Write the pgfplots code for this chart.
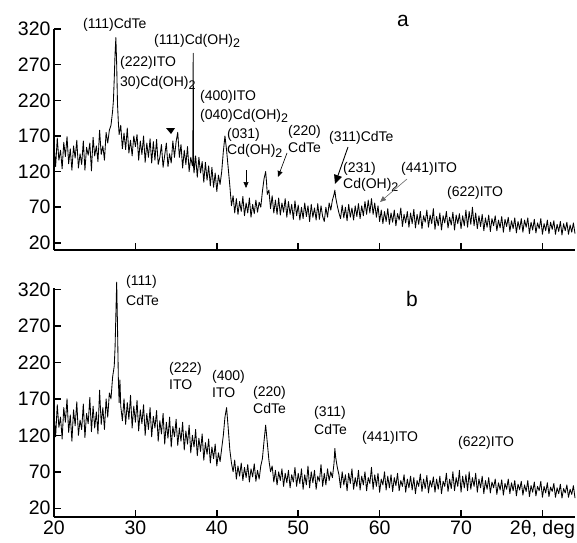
\documentclass[border=0pt]{standalone}
\usepackage{fontspec}
\setmainfont{Liberation Sans}
\usepackage{pgfplots}
\pgfplotsset{compat=1.18}
\usetikzlibrary{arrows.meta}

\newcommand{\sub}{\raisebox{-3.5pt}{\fontsize{12.5}{12.5}\selectfont 2}}

\pgfplotsset{xrd/.style={
  scale only axis, width=521pt,
  xmin=20, xmax=84,
  axis lines=left, axis line style={-, line width=1.5pt},
  tick align=inside, major tick length=7pt,
  tick style={black, line width=1.5pt},
  xtick={20,30,...,80}, ytick={20,70,...,320},
  ticklabel style={font=\fontsize{19.5}{19.5}\selectfont},
  /pgf/number format/assume math mode=true,
  clip=false,
}}

\begin{document}
\begin{tikzpicture}
% panel a
\begin{axis}[xrd, at={(54pt,292pt)}, anchor=south west,
  height=221pt, ymin=10, ymax=320, xticklabels={}]
\addplot[black, line width=0.85pt, line join=round] coordinates {
(20,157)(20.2,127)(20.4,167)(20.6,136)(20.8,150)(21,124)(21.2,161)(21.4,141)(21.6,169)(21.8,131)
(22,152)(22.2,122)(22.4,156)(22.6,139)(22.8,164)(23,125)(23.2,145)(23.4,130)(23.6,163)(23.8,122)
(24,154)(24.2,143)(24.4,160)(24.6,121)(24.8,168)(25,142)(25.2,156)(25.4,134)(25.6,178)(25.8,144)
(26,156)(26.2,136)(26.4,175)(26.6,160)(26.8,178)(27,185)(27.2,205)(27.3,220)(27.4,250)(27.5,285)
(27.6,308)(27.7,270)(27.8,215)(27.9,190)(28,172)(28.2,185)(28.4,152)(28.6,174)(28.8,151)(29,181)
(29.2,146)(29.4,164)(29.6,142)(29.8,170)(30,155)(30.2,172)(30.4,136)(30.6,163)(30.8,144)(31,170)
(31.2,133)(31.4,160)(31.6,140)(31.8,166)(32,132)(32.2,162)(32.4,136)(32.6,165)(32.8,130)(33,140)
(33.2,158)(33.4,126)(33.6,143)(33.8,160)(34,127)(34.2,145)(34.4,132)(34.6,163)(34.8,140)(35,162)
(35.2,175)(35.4,140)(35.6,158)(35.8,125)(36,150)(36.2,130)(36.4,155)(36.6,120)(36.8,140)(37,128)
(37.05,130)(37.1,286)(37.15,126)(37.2,118)(37.4,142)(37.6,112)(37.8,140)(38,118)(38.2,134)(38.4,105)
(38.6,133)(38.8,108)(39,128)(39.2,100)(39.4,126)(39.6,98)(39.8,118)(40,92)(40.2,115)(40.4,102)
(40.6,120)(40.8,148)(41,170)(41.2,150)(41.4,125)(41.6,100)(41.8,72)(42,86)(42.2,62)(42.4,82)
(42.6,60)(42.8,78)(43,64)(43.2,85)(43.4,58)(43.6,76)(43.8,62)(44,83)(44.2,56)(44.4,74)
(44.6,61)(44.8,80)(45,63)(45.2,77)(45.4,70)(45.6,92)(45.8,110)(46,120)(46.1,106)(46.2,88)
(46.4,94)(46.6,68)(46.8,86)(47,62)(47.2,80)(47.4,60)(47.6,83)(47.8,59)(48,76)(48.2,63)
(48.4,82)(48.6,56)(48.8,78)(49,60)(49.2,74)(49.4,53)(49.6,79)(49.8,58)(50,73)(50.2,52)
(50.4,70)(50.6,54)(50.8,76)(51,57)(51.2,72)(51.4,50)(51.6,74)(51.8,56)(52,69)(52.2,52)
(52.4,75)(52.6,53)(52.8,72)(53,57)(53.2,50)(53.4,70)(53.6,56)(53.8,76)(54,66)(54.2,80)
(54.4,88)(54.5,94)(54.6,84)(54.8,72)(55,62)(55.2,54)(55.4,73)(55.6,55)(55.8,70)(56,51)
(56.2,74)(56.4,56)(56.6,69)(56.8,52)(57,72)(57.2,57)(57.4,75)(57.6,54)(57.8,72)(58,58)
(58.2,78)(58.4,60)(58.6,80)(58.8,62)(59,82)(59.2,60)(59.4,76)(59.6,56)(59.8,72)(60,50)
(60.2,66)(60.4,47)(60.6,64)(60.8,50)(61,68)(61.2,46)(61.4,62)(61.6,49)(61.8,66)(62,44)
(62.2,61)(62.4,52)(62.6,69)(62.8,43)(63,60)(63.2,48)(63.4,64)(63.6,42)(63.8,62)(64,47)
(64.2,67)(64.4,41)(64.6,60)(64.8,46)(65,64)(65.2,40)(65.4,58)(65.6,49)(65.8,66)(66,42)
(66.2,59)(66.4,47)(66.6,68)(66.8,39)(67,57)(67.2,44)(67.4,62)(67.6,38)(67.8,58)(68,48)
(68.2,64)(68.4,41)(68.6,56)(68.8,45)(69,63)(69.2,38)(69.4,59)(69.6,47)(69.8,61)(70,40)
(70.2,58)(70.4,44)(70.6,66)(70.8,42)(71,64)(71.2,46)(71.4,70)(71.6,44)(71.8,62)(72,40)
(72.2,58)(72.4,43)(72.6,60)(72.8,37)(73,55)(73.2,42)(73.4,59)(73.6,36)(73.8,54)(74,44)
(74.2,58)(74.4,37)(74.6,52)(74.8,41)(75,57)(75.2,35)(75.4,53)(75.6,43)(75.8,56)(76,36)
(76.2,51)(76.4,40)(76.6,55)(76.8,34)(77,50)(77.2,39)(77.4,54)(77.6,35)(77.8,52)(78,42)
(78.2,55)(78.4,33)(78.6,49)(78.8,38)(79,53)(79.2,34)(79.4,48)(79.6,40)(79.8,54)(80,32)
(80.2,47)(80.4,37)(80.6,52)(80.8,33)(81,49)(81.2,39)(81.4,51)(81.6,32)(81.8,46)(82,36)
(82.2,50)(82.4,31)(82.6,47)(82.8,37)(83,49)(83.2,32)(83.4,45)(83.6,35)(83.8,48)(84,33)
};
\end{axis}
% panel b
\begin{axis}[xrd, at={(54pt,25pt)}, anchor=south west,
  height=229pt, ymin=8, ymax=322,
  xticklabels={20,30,40,50,60,70,{2θ, deg}}]
\addplot[black, line width=0.85pt, line join=round] coordinates {
(20,150)(20.2,118)(20.4,162)(20.6,131)(20.8,145)(21,115)(21.2,158)(21.4,138)(21.6,170)(21.8,124)
(22,148)(22.2,112)(22.4,155)(22.6,133)(22.8,166)(23,120)(23.2,141)(23.4,128)(23.6,163)(23.8,117)
(24,150)(24.2,136)(24.4,172)(24.6,125)(24.8,160)(25,130)(25.2,152)(25.4,122)(25.6,182)(25.8,135)
(26,158)(26.2,128)(26.4,170)(26.6,145)(26.8,178)(27,170)(27.2,200)(27.4,215)(27.5,240)(27.6,285)
(27.7,330)(27.8,270)(27.9,200)(28,165)(28.1,196)(28.2,160)(28.4,140)(28.6,170)(28.8,135)(29,165)
(29.2,142)(29.4,175)(29.6,130)(29.8,160)(30,138)(30.2,168)(30.4,126)(30.6,155)(30.8,136)(31,162)
(31.2,120)(31.4,150)(31.6,128)(31.8,158)(32,118)(32.2,146)(32.4,130)(32.6,154)(32.8,112)(33,140)
(33.2,122)(33.4,150)(33.6,108)(33.8,138)(34,116)(34.2,145)(34.4,104)(34.6,132)(34.8,118)(35,142)
(35.2,106)(35.4,130)(35.6,112)(35.8,138)(36,100)(36.2,126)(36.4,108)(36.6,134)(36.8,96)(37,120)
(37.2,104)(37.4,128)(37.6,92)(37.8,116)(38,98)(38.2,122)(38.4,86)(38.6,110)(38.8,94)(39,115)
(39.2,82)(39.4,104)(39.6,88)(39.8,108)(40,78)(40.2,96)(40.4,84)(40.6,102)(40.8,120)(41,145)
(41.2,158)(41.4,130)(41.6,100)(41.8,82)(42,70)(42.2,86)(42.4,60)(42.6,78)(42.8,64)(43,82)
(43.2,58)(43.4,76)(43.6,62)(43.8,80)(44,56)(44.2,74)(44.4,63)(44.6,81)(44.8,57)(45,72)
(45.2,60)(45.4,78)(45.6,88)(45.8,112)(46,134)(46.2,110)(46.4,86)(46.6,70)(46.8,78)(47,56)
(47.2,72)(47.4,52)(47.6,70)(47.8,58)(48,74)(48.2,50)(48.4,68)(48.6,55)(48.8,72)(49,48)
(49.2,66)(49.4,56)(49.6,76)(49.8,50)(50,68)(50.2,54)(50.4,74)(50.6,46)(50.8,66)(51,52)
(51.2,78)(51.4,48)(51.6,70)(51.8,55)(52,72)(52.2,46)(52.4,64)(52.6,57)(52.8,80)(53,50)
(53.2,68)(53.4,52)(53.6,74)(53.8,58)(54,70)(54.2,62)(54.4,82)(54.5,102)(54.6,90)(54.8,76)
(55,66)(55.2,48)(55.4,70)(55.6,52)(55.8,66)(56,44)(56.2,68)(56.4,54)(56.6,74)(56.8,46)
(57,62)(57.2,50)(57.4,72)(57.6,45)(57.8,64)(58,52)(58.2,70)(58.4,44)(58.6,62)(58.8,54)
(59,76)(59.2,46)(59.4,66)(59.6,50)(59.8,68)(60,42)(60.2,60)(60.4,52)(60.6,70)(60.8,45)
(61,64)(61.2,48)(61.4,66)(61.6,43)(61.8,62)(62,51)(62.2,68)(62.4,44)(62.6,58)(62.8,50)
(63,66)(63.2,42)(63.4,60)(63.6,48)(63.8,64)(64,45)(64.2,62)(64.4,40)(64.6,58)(64.8,50)
(65,67)(65.2,43)(65.4,60)(65.6,47)(65.8,65)(66,41)(66.2,58)(66.4,49)(66.6,63)(66.8,42)
(67,60)(67.2,46)(67.4,64)(67.6,40)(67.8,57)(68,50)(68.2,68)(68.4,43)(68.6,60)(68.8,47)
(69,70)(69.2,44)(69.4,62)(69.6,50)(69.8,72)(70,42)(70.2,64)(70.4,48)(70.6,66)(70.8,44)
(71,70)(71.2,46)(71.4,62)(71.6,50)(71.8,68)(72,42)(72.2,60)(72.4,48)(72.6,64)(72.8,40)
(73,58)(73.2,46)(73.4,62)(73.6,41)(73.8,56)(74,48)(74.2,60)(74.4,39)(74.6,55)(74.8,45)
(75,59)(75.2,38)(75.4,54)(75.6,46)(75.8,60)(76,40)(76.2,55)(76.4,44)(76.6,58)(76.8,37)
(77,53)(77.2,45)(77.4,57)(77.6,38)(77.8,52)(78,43)(78.2,58)(78.4,36)(78.6,51)(78.8,42)
(79,56)(79.2,37)(79.4,50)(79.6,44)(79.8,57)(80,35)(80.2,50)(80.4,41)(80.6,55)(80.8,36)
(81,49)(81.2,43)(81.4,54)(81.6,35)(81.8,48)(82,40)(82.2,53)(82.4,34)(82.6,47)(82.8,41)
(83,52)(83.2,35)(83.4,46)(83.6,39)(83.8,51)(84,34)
};
\end{axis}
% annotations, in pixel-like units measured from the top left
\begin{scope}[x=1pt, y=-1pt, shift={(0pt,542pt)},
  lab/.style={font=\fontsize{14}{16}\selectfont, inner sep=0pt, anchor=west},
  arr/.style={-{Triangle[length=6pt,width=5pt]}, line width=0.6pt}]
\node[font=\fontsize{21}{21}\selectfont] at (403,21) {a};
\node[lab] at (83,25) {(111)CdTe};
\node[lab] at (154,41) {(111)Cd(OH)\sub};
\node[lab] at (120,63) {(222)ITO};
\node[lab] at (120,83) {30)Cd(OH)\sub};
\node[lab] at (200,97) {(400)ITO};
\node[lab] at (200,116) {(040)Cd(OH)\sub};
\node[lab] at (227,135) {(031)};
\node[lab] at (227,151) {Cd(OH)\sub};
\node[lab] at (288,132) {(220)};
\node[lab] at (288,147) {CdTe};
\node[lab] at (329,138) {(311)CdTe};
\node[lab] at (343,169) {(231)};
\node[lab] at (343,185) {Cd(OH)\sub};
\node[lab] at (401,169) {(441)ITO};
\node[lab] at (447,193) {(622)ITO};
\fill (166,128) -- (175,128) -- (171,134) -- cycle;
\draw[arr] (246,170) -- (246,188);
\draw[arr] (287,153) -- (278,177);
\draw[-{Triangle[length=9pt,width=8pt]}, line width=0.9pt] (348,147) -- (335,184);
\draw[arr, black!60] (407,179) -- (380,202);
\node[font=\fontsize{21}{21}\selectfont] at (412,299) {b};
\node[lab] at (126,282) {(111)};
\node[lab] at (126,300) {CdTe};
\node[lab] at (169,369) {(222)};
\node[lab] at (169,385) {ITO};
\node[lab] at (212,377) {(400)};
\node[lab] at (212,393) {ITO};
\node[lab] at (253,393) {(220)};
\node[lab] at (253,408) {CdTe};
\node[lab] at (314,413) {(311)};
\node[lab] at (314,429) {CdTe};
\node[lab] at (362,438) {(441)ITO};
\node[lab] at (458,443) {(622)ITO};
\end{scope}
\pgfresetboundingbox
\useasboundingbox (0,0) rectangle (577pt,542pt);
\end{tikzpicture}
\end{document}
